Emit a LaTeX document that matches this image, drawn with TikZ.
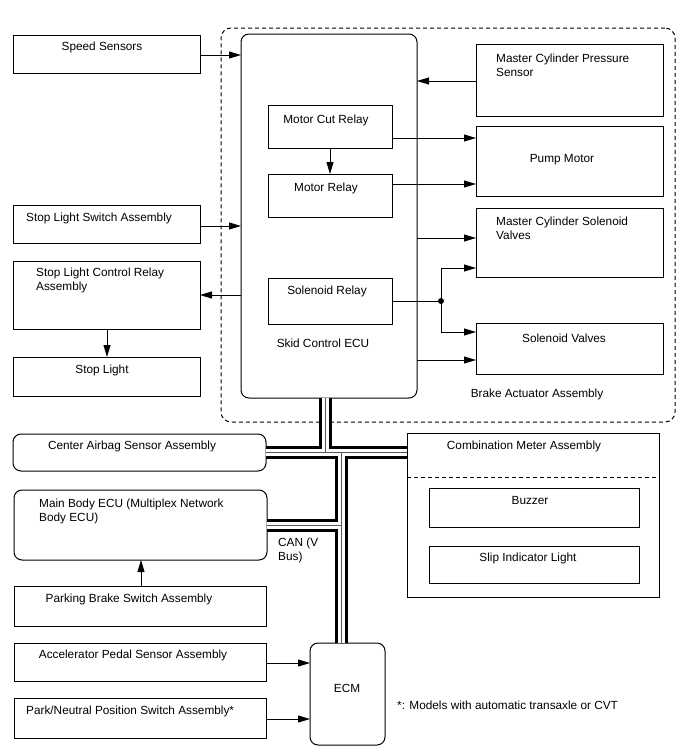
\documentclass[tikz,border=0pt]{standalone}
\usepackage{fontspec}
\setmainfont{Liberation Sans}
\usetikzlibrary{arrows.meta}
\newcommand\mkbox[6]{\node[#1, minimum width={(#4)-(#2)}, minimum height={(#5)-(#3)}] (#6) at ({((#2)+(#4))/2},{((#3)+(#5))/2}) {};}
\begin{document}
\begin{tikzpicture}[x=1pt,y=-1pt,
  box/.style={draw, line width=1pt, rectangle, inner sep=0pt, outer sep=0pt},
  rbox/.style={box, rounded corners=8pt},
  dbox/.style={box, rounded corners=10pt, dash pattern=on 4pt off 3pt},
  txt/.style={inner sep=0pt, font=\fontsize{11.8pt}{14pt}\selectfont, align=left},
  ctxt/.style={txt, anchor=north},
  ltxt/.style={txt, anchor=north west},
  arr/.style={line width=0.9pt, -{Triangle[length=12pt,width=7pt]}},
  ln/.style={line width=0.9pt},
  busout/.style={line width=13pt, black},
  busmid/.style={line width=7pt, white},
  buscore/.style={line width=0.7pt, black!65},
]
\useasboundingbox (0,0) rectangle (688,755);

% boxes
\mkbox{dbox}{221}{28}{675}{422}{bact}
\mkbox{rbox}{241}{34}{417}{398}{ecu}
\mkbox{box}{13}{35}{200}{73}{speed}
\mkbox{box}{476}{44}{663}{116}{mcp}
\mkbox{box}{268}{105}{392}{148}{mcr}
\mkbox{box}{268}{174}{392}{217}{mr}
\mkbox{box}{476}{126}{663}{196}{pump}
\mkbox{box}{13}{205}{200}{243}{sls}
\mkbox{box}{476}{208}{663}{277}{mcsv}
\mkbox{box}{13}{261}{200}{329}{slcr}
\mkbox{box}{268}{278}{392}{324}{sr}
\mkbox{box}{476}{323}{663}{374}{sv}
\mkbox{box}{13}{357}{200}{396}{sl}
\mkbox{rbox}{13}{434}{266}{471}{airbag}
\mkbox{box}{407}{433}{659}{597}{cm}
\mkbox{box}{429}{488}{639}{527}{buzzer}
\mkbox{box}{429}{546}{639}{583}{slip}
\mkbox{rbox}{14}{490}{267}{560}{mbe}
\mkbox{box}{14}{586}{266}{626}{pbs}
\mkbox{box}{14}{643}{266}{681}{aps}
\mkbox{box}{14}{698}{266}{738}{pns}
\mkbox{rbox}{310}{643}{385}{745}{ecm}

\draw[ln, dash pattern=on 4pt off 3pt] (cm.west |- 0,477) -- (cm.east |- 0,477);

% texts
\node[ctxt] (t-speed) at (102,41.7) {Speed Sensors};
\node[ltxt] (t-mcp) at (496,53.7) {Master Cylinder Pressure\\Sensor};
\node[ctxt] (t-mcr) at (326,114.7) {Motor Cut Relay};
\node[ctxt] (t-mr) at (326,182.7) {Motor Relay};
\node[ctxt] (t-pump) at (562,153.7) {Pump Motor};
\node[ctxt] (t-sls) at (99,212.7) {Stop Light Switch Assembly};
\node[ltxt] (t-mcsv) at (496,216.7) {Master Cylinder Solenoid\\Valves};
\node[ltxt] (t-slcr) at (36,267.7) {Stop Light Control Relay\\Assembly};
\node[ctxt] (t-sr) at (327,285.7) {Solenoid Relay};
\node[ctxt] (t-ecu) at (323,338.7) {Skid Control ECU};
\node[ctxt] (t-sv) at (564,333.7) {Solenoid Valves};
\node[ctxt] (t-sl) at (102,364.7) {Stop Light};
\node[ctxt] (t-bact) at (537,388.7) {Brake Actuator Assembly};
\node[ctxt] (t-airbag) at (132,440.7) {Center Airbag Sensor Assembly};
\node[ctxt] (t-cm) at (524,440.7) {Combination Meter Assembly};
\node[ctxt] (t-buzzer) at (530,495.7) {Buzzer};
\node[ctxt] (t-slip) at (528,552.7) {Slip Indicator Light};
\node[ltxt] (t-mbe) at (39,498.7) {Main Body ECU (Multiplex Network\\Body ECU)};
\node[ltxt] (t-can) at (278,537.7) {CAN (V\\Bus)};
\node[ctxt] (t-pbs) at (129,593.7) {Parking Brake Switch Assembly};
\node[ctxt] (t-aps) at (133,649.7) {Accelerator Pedal Sensor Assembly};
\node[ltxt] (t-pns) at (26,705.7) {Park/Neutral Position Switch Assembly*};
\node[ctxt] (t-ecm) at (347,683.7) {ECM};
\node[ltxt] (t-note) at (397,700.7) {*: Models with automatic transaxle or CVT};

% arrows
\draw[arr] (speed.east |- 0,55) -- (ecu.west |- 0,55);
\draw[arr] (mcp.west |- 0,81) -- (ecu.east |- 0,81);
\draw[arr] (mcr.east |- 0,138) -- (pump.west |- 0,138);
\draw[arr] (mr.east |- 0,184) -- (pump.west |- 0,184);
\draw[arr] (mcr.south) -- (mr.north);
\draw[arr] (sls.east |- 0,226) -- (ecu.west |- 0,226);
\draw[arr] (ecu.east |- 0,238) -- (mcsv.west |- 0,238);
\coordinate (dot) at (441,301);
\draw[ln] (sr.east |- dot) -- (dot);
\draw[arr] (dot) -- (441,268) -- (mcsv.west |- 0,268);
\draw[arr] (dot) -- (441,332) -- (sv.west |- 0,332);
\fill (dot) circle (3pt);
\draw[arr] (ecu.west |- 0,295) -- (slcr.east |- 0,295);
\draw[arr] (slcr.south -| 107,0) -- (sl.north -| 107,0);
\draw[arr] (ecu.east |- 0,360) -- (sv.west |- 0,360);
\draw[arr] (pbs.north -| 141,0) -- (mbe.south -| 141,0);
\draw[arr] (aps.east |- 0,663) -- (ecm.west |- 0,663);
\draw[arr] (pns.east |- 0,719) -- (ecm.west |- 0,719);

% CAN bus
\coordinate (j1) at (325,452);
\coordinate (j2) at (341,452);
\coordinate (j3) at (341,525);
\foreach \s in {busout,busmid,buscore}{
  \draw[\s] (ecu.south -| j1) -- (j1);
  \draw[\s] (airbag.east |- j1) -- (cm.west |- j1);
  \draw[\s] (j2) -- (ecm.north -| j2);
  \draw[\s] (mbe.east |- j3) -- (j3);
}
\end{tikzpicture}
\end{document}
